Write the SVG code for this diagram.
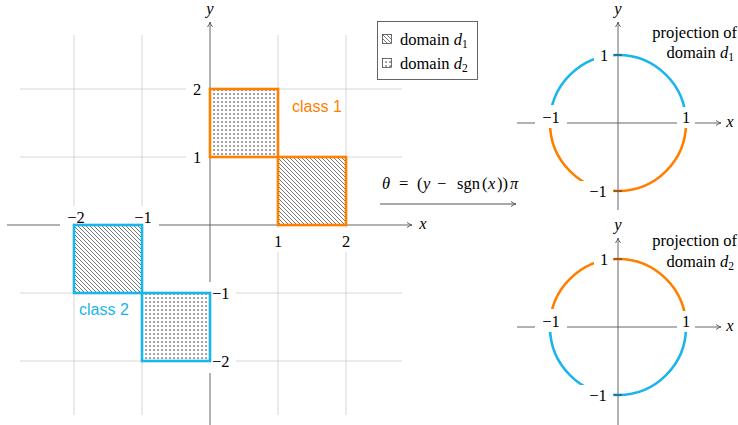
<svg xmlns="http://www.w3.org/2000/svg" width="738" height="425" viewBox="0 0 738 425">
<style>
.grid{stroke:#cccccc;stroke-width:0.8;fill:none}
.axis{stroke:#666666;stroke-width:1;fill:none}
.lab{font-family:"Liberation Serif",serif;font-size:16.5px;fill:#000}
.cls{font-family:"Liberation Sans",sans-serif;font-size:16px}
.bg{fill:#ffffff}
.or{stroke:#ff8000;stroke-width:2.6;fill:none}
.cy{stroke:#1ab5ec;stroke-width:2.6;fill:none}
.arcO{stroke:#ff8000;stroke-width:2.6;fill:none}
.arcC{stroke:#1ab5ec;stroke-width:2.6;fill:none}
.tick{stroke:#333;stroke-width:1}
.sub{font-size:11.5px}
</style>
<defs>
<pattern id="hatch" patternUnits="userSpaceOnUse" width="4" height="4">
<path d="M-1,-1 L5,5 M-1,3 L1,5 M3,-1 L5,1" stroke="#555" stroke-width="0.8"/>
</pattern>
<pattern id="dots" patternUnits="userSpaceOnUse" width="4" height="4">
<rect x="1.4" y="1.4" width="1.3" height="1.3" fill="#222"/>
</pattern>
<marker id="arr" markerWidth="8" markerHeight="8" refX="6" refY="4" orient="auto" markerUnits="userSpaceOnUse">
<path d="M1,1.5 Q4,3.5 6,4 Q4,4.5 1,6.5" fill="none" stroke="#555" stroke-width="0.9"/>
</marker>
</defs>

<g id="left-plot">
<g id="grid">
<line class="grid" x1="74" y1="35" x2="74" y2="415"/>
<line class="grid" x1="142" y1="35" x2="142" y2="415"/>
<line class="grid" x1="278" y1="35" x2="278" y2="415"/>
<line class="grid" x1="346" y1="35" x2="346" y2="415"/>
<line class="grid" x1="20" y1="89" x2="402" y2="89"/>
<line class="grid" x1="20" y1="157" x2="402" y2="157"/>
<line class="grid" x1="20" y1="293" x2="402" y2="293"/>
<line class="grid" x1="20" y1="361" x2="402" y2="361"/>
</g>
<line class="axis" x1="7" y1="225" x2="412" y2="225" marker-end="url(#arr)"/>
<line class="axis" x1="210" y1="425" x2="210" y2="22" marker-end="url(#arr)"/>
<text class="lab" x="423" y="229" text-anchor="middle" font-style="italic">x</text>
<text class="lab" x="210" y="14" text-anchor="middle" font-style="italic">y</text>
<g id="ticklabels">
<rect class="bg" x="186" y="79" width="23" height="20"/>
<text class="lab" x="197" y="95" text-anchor="middle">2</text>
<rect class="bg" x="186" y="147" width="23" height="20"/>
<text class="lab" x="197" y="163" text-anchor="middle">1</text>
<rect class="bg" x="268" y="228" width="20" height="24"/>
<text class="lab" x="278" y="247" text-anchor="middle">1</text>
<rect class="bg" x="336" y="228" width="20" height="24"/>
<text class="lab" x="346" y="247" text-anchor="middle">2</text>
<rect class="bg" x="60" y="206" width="32" height="22"/>
<text class="lab" x="76" y="223" text-anchor="middle">−2</text>
<rect class="bg" x="127" y="206" width="32" height="22"/>
<text class="lab" x="143" y="223" text-anchor="middle">−1</text>
<rect class="bg" x="208" y="282" width="28" height="22"/>
<text class="lab" x="212" y="299">−1</text>
<rect class="bg" x="208" y="350" width="28" height="23"/>
<text class="lab" x="212" y="367">−2</text>
</g>
</g>

<g id="class1-d2">
<rect x="210" y="89" width="68" height="68" fill="url(#dots)"/>
<rect class="or" x="210" y="89" width="68" height="68"/>
</g>
<g id="class1-d1">
<rect x="278" y="157" width="68" height="68" fill="url(#hatch)"/>
<rect class="or" x="278" y="157" width="68" height="68"/>
</g>
<g id="class2-d1">
<rect x="74" y="225" width="68" height="68" fill="url(#hatch)"/>
<rect class="cy" x="74" y="225" width="68" height="68"/>
</g>
<g id="class2-d2">
<rect x="142" y="293" width="68" height="68" fill="url(#dots)"/>
<rect class="cy" x="142" y="293" width="68" height="68"/>
</g>
<text class="cls" x="292" y="112" fill="#ff8000">class 1</text>
<text class="cls" x="79" y="315" fill="#1ab5ec">class 2</text>

<g id="legend">
<rect x="377.5" y="21.5" width="100" height="58" fill="#fff" stroke="#555" stroke-width="0.9"/>
<rect x="382.5" y="34.5" width="9" height="9" fill="url(#hatch)" stroke="#333" stroke-width="0.7"/>
<text class="lab" x="400" y="45">domain <tspan font-style="italic">d</tspan><tspan class="sub" dy="3">1</tspan></text>
<rect x="382.5" y="58.5" width="9" height="9" fill="url(#dots)" stroke="#333" stroke-width="0.7"/>
<text class="lab" x="400" y="69">domain <tspan font-style="italic">d</tspan><tspan class="sub" dy="3">2</tspan></text>
</g>

<g id="connectors">
<line x1="380" y1="204" x2="516" y2="204" stroke="#555" stroke-width="1" marker-end="url(#arr)"/>
<text class="lab" y="189" font-size="18"><tspan x="382" font-style="italic">θ</tspan><tspan x="399">=</tspan><tspan x="417">(</tspan><tspan x="423" font-style="italic">y</tspan><tspan x="437">−</tspan><tspan x="457">sgn</tspan><tspan x="482">(</tspan><tspan x="488" font-style="italic">x</tspan><tspan x="497">))</tspan><tspan x="510" font-style="italic">π</tspan></text>
</g>

<g id="circle-d1">
<line class="axis" x1="517" y1="123" x2="721" y2="123" marker-end="url(#arr)"/>
<line class="axis" x1="618" y1="210" x2="618" y2="22" marker-end="url(#arr)"/>
<text class="lab" x="730" y="127" text-anchor="middle" font-style="italic">x</text>
<text class="lab" x="618" y="14" text-anchor="middle" font-style="italic">y</text>
<path class="arcC" d="M686,123 A68,68 0 0 0 550,123"/>
<path class="arcO" d="M550,123 A68,68 0 0 0 686,123"/>
<line class="tick" x1="614" y1="55" x2="622" y2="55"/>
<line class="tick" x1="614" y1="191" x2="622" y2="191"/>
<rect class="bg" x="594" y="44" width="19" height="23"/>
<text class="lab" x="604" y="61" text-anchor="middle">1</text>
<rect class="bg" x="677" y="107" width="18" height="21"/>
<text class="lab" x="686" y="123" text-anchor="middle">1</text>
<rect class="bg" x="535" y="105" width="32" height="23"/>
<text class="lab" x="551" y="123" text-anchor="middle">−1</text>
<rect class="bg" x="580" y="181" width="33" height="22"/>
<text class="lab" x="598" y="197" text-anchor="middle">−1</text>
<text class="lab" x="737" y="38" text-anchor="end" font-size="17">projection of</text>
<text class="lab" x="734" y="58" text-anchor="end" font-size="17">domain <tspan font-style="italic">d</tspan><tspan class="sub" dy="3">1</tspan></text>
</g>

<g id="circle-d2">
<line class="axis" x1="517" y1="327" x2="721" y2="327" marker-end="url(#arr)"/>
<line class="axis" x1="618" y1="425" x2="618" y2="238" marker-end="url(#arr)"/>
<text class="lab" x="730" y="331" text-anchor="middle" font-style="italic">x</text>
<text class="lab" x="618" y="230" text-anchor="middle" font-style="italic">y</text>
<path class="arcO" d="M686,327 A68,68 0 0 0 550,327"/>
<path class="arcC" d="M550,327 A68,68 0 0 0 686,327"/>
<line class="tick" x1="614" y1="259" x2="622" y2="259"/>
<line class="tick" x1="614" y1="395" x2="622" y2="395"/>
<rect class="bg" x="594" y="248" width="19" height="23"/>
<text class="lab" x="604" y="265" text-anchor="middle">1</text>
<rect class="bg" x="677" y="311" width="18" height="21"/>
<text class="lab" x="686" y="327" text-anchor="middle">1</text>
<rect class="bg" x="535" y="309" width="32" height="23"/>
<text class="lab" x="551" y="327" text-anchor="middle">−1</text>
<rect class="bg" x="580" y="385" width="33" height="22"/>
<text class="lab" x="598" y="401" text-anchor="middle">−1</text>
<text class="lab" x="737" y="246" text-anchor="end" font-size="17">projection of</text>
<text class="lab" x="734" y="267" text-anchor="end" font-size="17">domain <tspan font-style="italic">d</tspan><tspan class="sub" dy="3">2</tspan></text>
</g>
</svg>
